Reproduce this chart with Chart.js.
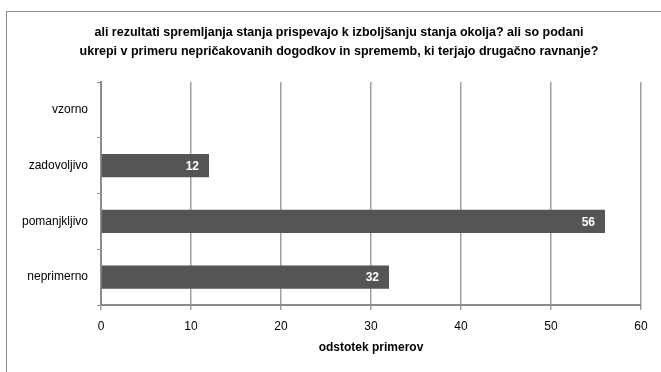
<!DOCTYPE html>
<html>
<head>
<meta charset="utf-8">
<script src="https://cdn.jsdelivr.net/npm/chart.js@4.4.1/dist/chart.umd.min.js"></script>
<style>
  html, body { margin: 0; padding: 0; background: #fff; }
  #wrap { position: relative; width: 661px; height: 372px; overflow: hidden; }
  #frame { position: absolute; left: 6px; top: 11px; width: 700px; height: 400px;
           border-left: 1px solid #8c8c8c; border-top: 1px solid #8c8c8c; }
  canvas { position: absolute; left: 0; top: 0; }
</style>
</head>
<body>
<div id="wrap">
  <div id="frame"></div>
  <canvas id="myChart" width="661" height="372"></canvas>
</div>
<script>
const categories = ['vzorno', 'zadovoljivo', 'pomanjkljivo', 'neprimerno'];
const values = [0, 12, 56, 32];
const titleLines = [
    'ali rezultati spremljanja stanja prispevajo k izboljšanju stanja okolja? ali so podani',
    'ukrepi v primeru nepričakovanih dogodkov in sprememb, ki terjajo drugačno ravnanje?'
];
const axisTitle = 'odstotek primerov';

const fontFamily = '"Liberation Sans Narrow", "Liberation Sans", Arial, sans-serif';

// vertical shading on each bar, lighter on top
function barFill(context) {
    const el = context.element;
    const c = context.chart.ctx;
    if (!el || el.height === undefined) return '#555';
    const top = el.y - el.height / 2;
    const g = c.createLinearGradient(0, top, 0, top + el.height);
    g.addColorStop(0, '#5e5e5e');
    g.addColorStop(1, '#3e3e3e');
    return g;
}

// title text and value labels at the bar ends
const textPlugin = {
    id: 'textPlugin',
    afterDatasetsDraw(chart) {
        const c = chart.ctx;
        c.save();
        c.fillStyle = '#fff';
        c.font = 'bold 12px ' + fontFamily;
        c.textAlign = 'right';
        c.textBaseline = 'middle';
        chart.getDatasetMeta(0).data.forEach((bar, i) => {
            if (!values[i]) return;
            c.fillText(String(values[i]), bar.x - 10, bar.y + 1);
        });
        c.restore();
    },
    afterDraw(chart) {
        const c = chart.ctx;
        c.save();
        c.fillStyle = '#000';
        c.font = 'bold 12.5px ' + fontFamily;
        c.textAlign = 'center';
        c.textBaseline = 'middle';
        c.fillText(titleLines[0], 339, 33);
        c.fillText(titleLines[1], 339, 52);
        c.restore();
    }
};

const ctx = document.getElementById('myChart').getContext('2d');

let chart = new Chart(ctx, {
    type: 'bar',
    data: {
        labels: categories,
        datasets: [{
            data: values,
            backgroundColor: barFill,
            borderWidth: 0,
            barPercentage: 0.42,
            categoryPercentage: 1
        }]
    },
    options: {
        indexAxis: 'y',
        responsive: false,
        animation: false,
        layout: { padding: { left: 0, right: 20, top: 82, bottom: 17 } },
        plugins: {
            legend: { display: false },
            title: { display: false },
            tooltip: { enabled: false }
        },
        scales: {
            x: {
                min: 0,
                max: 60,
                ticks: { stepSize: 10, color: '#000', padding: 9, font: { family: fontFamily, size: 12 } },
                grid: { color: '#a0a0a0', lineWidth: 1.5, tickLength: 5 },
                border: { color: '#8c8c8c', width: 2 },
                title: {
                    display: true,
                    text: axisTitle,
                    color: '#000',
                    padding: { top: 0, bottom: 0 },
                    font: { family: fontFamily, size: 12, weight: 'bold' }
                },
                afterFit(axis) { axis.height = 50; }
            },
            y: {
                ticks: { color: '#000', padding: 9, font: { family: fontFamily, size: 12 } },
                grid: { drawOnChartArea: false, offset: true, color: '#8c8c8c', tickLength: 4 },
                border: { color: '#8c8c8c', width: 2 },
                afterFit(axis) { axis.width = 101; }
            }
        }
    },
    plugins: [textPlugin]
});
</script>
</body>
</html>
